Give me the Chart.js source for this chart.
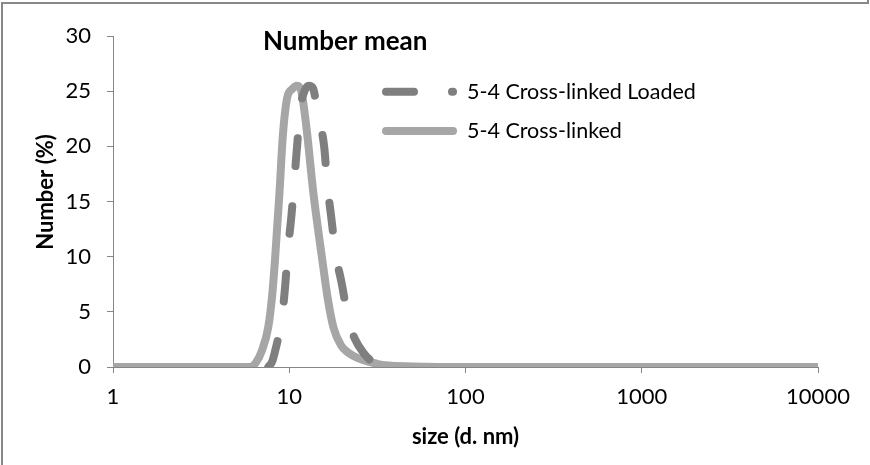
<!DOCTYPE html>
<html><head><meta charset="utf-8">
<script src="https://cdn.jsdelivr.net/npm/chart.js@4.4.1/dist/chart.umd.min.js"></script>
<style>
html,body{margin:0;padding:0;background:#fff;}
canvas{display:block;}
</style></head><body>
<canvas id="c" width="870" height="465"></canvas>
<script>
// ---- data ----
const chartTitle = 'Number mean';
const xAxisTitle = 'size (d. nm)';
const yAxisTitle = 'Number (%)';
const seriesNames = ['5-4 Cross-linked Loaded', '5-4 Cross-linked'];
const xTickValues = [1, 10, 100, 1000, 10000];
const yTickStep = 5;
const yMax = 30;

const loadedSizes  = [7.6, 8.0, 8.3, 8.7, 9.1, 9.5, 9.8, 10.3, 10.7, 11.1, 11.6, 12.2, 12.9, 13.6, 14.6, 15.8, 16.4, 17.3, 18.3, 20.0, 21.6, 23.5, 26.3, 29.5, 34.0];
const loadedValues = [0,   0.5, 1.4, 2.8, 4.5, 7.5, 10.4, 13.8, 17.0, 20.2, 23.6, 25.0, 25.5, 25.3, 22.8, 19.9, 16.7, 13.6, 10.4, 7.3, 4.3, 2.6, 1.3, 0.5, 0.1];

const plainSizes  = [1, 2, 4, 6.0, 6.5, 7.0, 7.6, 8.0, 8.3, 8.8, 9.2, 9.7, 10.4, 11.1, 11.7, 12.5, 13.7, 15.4, 16.5, 17.8, 19.6, 21.6, 24.5, 28.8, 35, 50, 100, 1000, 10000];
const plainValues = [0, 0, 0, 0,   0.45, 1.5, 3.6, 6.5, 9.7, 15.8, 21.0, 24.3, 25.2, 25.5, 25.0, 21.8, 15.8, 9.7, 6.3, 3.6, 2.0, 1.3, 0.8, 0.45, 0.15, 0.05, 0, 0, 0];

// ---- styling ----
const darkGray = '#7F7F7F';
const lightGray = '#A6A6A6';
const axisGray = '#868686';
const dashPattern = [28, 40];
const fontFamily = 'Lato, "Open Sans", sans-serif';
Chart.defaults.font.family = fontFamily;
Chart.defaults.color = '#000';

const toPoints = (xs, ys) => xs.map((x, i) => ({x: x, y: ys[i]}));

const decorPlugin = {
  id: 'decor',
  afterDraw(chart) {
    const ctx = chart.ctx;
    const area = chart.chartArea;
    ctx.save();
    // outer frame
    ctx.strokeStyle = '#888';
    ctx.lineWidth = 2;
    ctx.beginPath();
    ctx.moveTo(2, 465); ctx.lineTo(2, 3); ctx.lineTo(868, 3); ctx.lineTo(868, 0);
    ctx.stroke();
    // chart title
    ctx.fillStyle = '#000';
    ctx.font = 'bold 26px ' + fontFamily;
    ctx.textAlign = 'left';
    ctx.textBaseline = 'middle';
    ctx.fillText(chartTitle, 263, 42);
    // y axis title
    ctx.save();
    ctx.translate(46, 192);
    ctx.rotate(-Math.PI / 2);
    ctx.font = 'bold 22px ' + fontFamily;
    ctx.textAlign = 'center';
    ctx.textBaseline = 'middle';
    ctx.fillText(yAxisTitle, 0, 0);
    ctx.restore();
    // legend
    const rows = [
      {y: 91.7, color: darkGray, dash: [28, 38], label: seriesNames[0]},
      {y: 131, color: lightGray, dash: [], label: seriesNames[1]}
    ];
    rows.forEach(r => {
      ctx.strokeStyle = r.color;
      ctx.lineWidth = 8;
      ctx.lineCap = 'round';
      ctx.setLineDash(r.dash);
      ctx.beginPath();
      ctx.moveTo(386, r.y); ctx.lineTo(453, r.y);
      ctx.stroke();
      ctx.setLineDash([]);
      ctx.fillStyle = '#000';
      ctx.font = '21.5px ' + fontFamily;
      ctx.textAlign = 'left';
      ctx.textBaseline = 'middle';
      ctx.fillText(r.label, 467, r.y);
    });
    ctx.restore();
  }
};

new Chart(document.getElementById('c'), {
  type: 'line',
  data: {
    datasets: [
      {
        label: seriesNames[0],
        data: toPoints(loadedSizes, loadedValues),
        borderColor: darkGray,
        borderWidth: 8,
        borderDash: dashPattern,
        borderCapStyle: 'round',
        borderJoinStyle: 'round',
        pointRadius: 0,
        cubicInterpolationMode: 'monotone',
        fill: false
      },
      {
        label: seriesNames[1],
        data: toPoints(plainSizes, plainValues),
        borderColor: lightGray,
        borderWidth: 8,
        borderCapStyle: 'round',
        borderJoinStyle: 'round',
        pointRadius: 0,
        cubicInterpolationMode: 'monotone',
        fill: false
      }
    ]
  },
  options: {
    responsive: false,
    animation: false,
    layout: {padding: {top: 36, right: 52, bottom: 0, left: 0}},
    plugins: {legend: {display: false}, tooltip: {enabled: false}},
    scales: {
      x: {
        type: 'logarithmic',
        min: 1, max: 10000,
        afterBuildTicks(scale) { scale.ticks = xTickValues.map(v => ({value: v})); },
        afterFit(scale) { scale.height = 98; },
        ticks: {
          autoSkip: false, maxRotation: 0, padding: 11,
          font: {size: 22},
          callback: (v) => String(v)
        },
        grid: {drawOnChartArea: false, color: axisGray, tickLength: 6},
        border: {color: axisGray, width: 1},
        title: {display: true, text: xAxisTitle, font: {size: 22, weight: 'bold'}, padding: {top: 0, bottom: 15}}
      },
      y: {
        min: 0, max: yMax,
        afterFit(scale) { scale.width = 113; },
        ticks: {stepSize: yTickStep, padding: 16, font: {size: 22}},
        grid: {drawOnChartArea: false, color: axisGray, tickLength: 6},
        border: {color: axisGray, width: 1},
        title: {display: false}
      }
    }
  },
  plugins: [decorPlugin]
});
</script>
</body></html>
